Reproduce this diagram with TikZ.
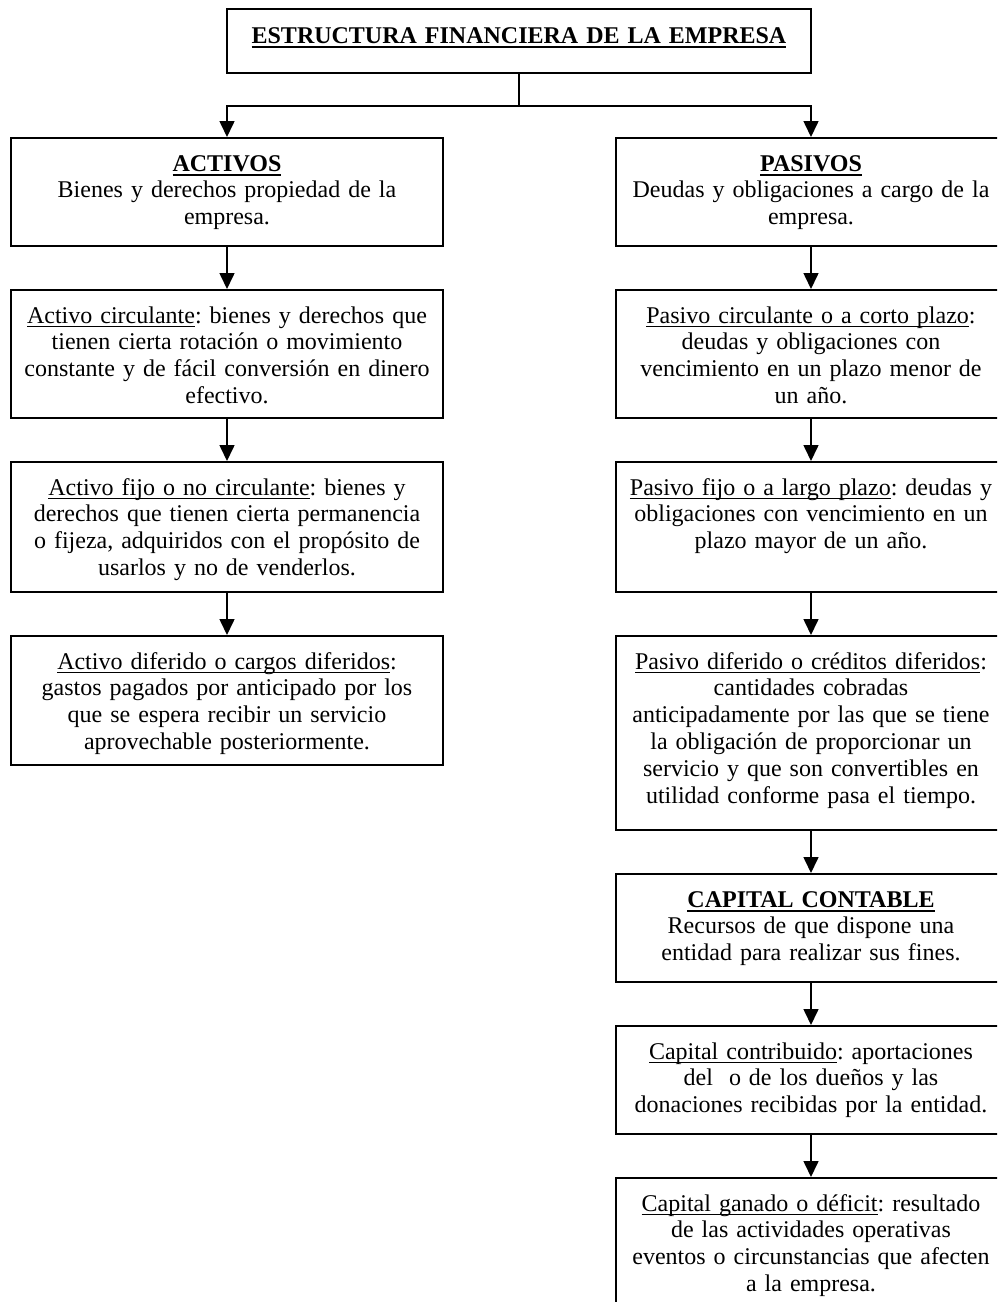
\documentclass[tikz,border=0pt]{standalone}
\usepackage{fontspec}
\setmainfont{Liberation Serif}
\usetikzlibrary{positioning,arrows.meta}

\newsavebox{\ulnbox}
\newcommand{\uln}[2][0.6pt]{\sbox{\ulnbox}{#2}\rlap{\vrule height -1.6pt depth \dimexpr 1.6pt+#1\relax width \wd\ulnbox}\usebox{\ulnbox}}
\newcommand{\hdr}[1]{\uln[1.1pt]{\textbf{#1}}}
\frenchspacing

\begin{document}
\begin{tikzpicture}[x=0.5pt,y=-0.5pt]
   \tikzstyle{box}=[draw, line width=1pt, align=center, inner xsep=4pt, inner ysep=0pt, text height=16.5pt, font=\fontsize{12pt}{13.4pt}\selectfont]
   \tikzstyle{leftbox}=[box, text width=208pt]
   \tikzstyle{rightbox}=[box, text width=187pt]
   \tikzstyle{link}=[line width=0.8pt, -{Triangle[width=7.5pt,length=8pt]}]

\clip (0,0) rectangle (997,1302);

\node[box, anchor=north, text width=284pt, text height=17pt, text depth=15pt] (estructura) at (519,8) {\hdr{ESTRUCTURA FINANCIERA DE LA EMPRESA}};
\coordinate (reparto) at (519,106);

\node[leftbox, anchor=north, text depth=37.5pt] (activos) at (227,137)
    {\hdr{ACTIVOS}\\ Bienes y derechos propiedad de la\\ empresa.};
\node[leftbox, below=21pt of activos, text depth=47.5pt] (actcirc)
    {\uln{Activo circulante}: bienes y derechos que\\ tienen cierta rotación o movimiento\\ constante y de fácil conversión en dinero\\ efectivo.};
\node[leftbox, below=21pt of actcirc, text depth=48.5pt] (actfijo)
    {\uln{Activo fijo o no circulante}: bienes y\\ derechos que tienen cierta permanencia\\ o fijeza, adquiridos con el propósito de\\ usarlos y no de venderlos.};
\node[leftbox, below=21pt of actfijo, text depth=48pt] (actdif)
    {\uln{Activo diferido o cargos diferidos}:\\ gastos pagados por anticipado por los\\ que se espera recibir un servicio\\ aprovechable posteriormente.};

\node[rightbox, anchor=north, text depth=37.5pt] (pasivos) at (811,137)
    {\hdr{PASIVOS}\\ Deudas y obligaciones a cargo de la\\ empresa.};
\node[rightbox, below=21pt of pasivos, text depth=47.5pt] (pascirc)
    {\uln{Pasivo circulante o a corto plazo}:\\ deudas y obligaciones con\\ vencimiento en un plazo menor de\\ un año.};
\node[rightbox, below=21pt of pascirc, text depth=48.5pt] (pasfijo)
    {\uln{Pasivo fijo o a largo plazo}: deudas y\\ obligaciones con vencimiento en un\\ plazo mayor de un año.};
\node[rightbox, below=21pt of pasfijo, text depth=80.5pt] (pasdif)
    {\uln{Pasivo diferido o créditos diferidos}:\\ cantidades cobradas\\ anticipadamente por las que se tiene\\ la obligación de proporcionar un\\ servicio y que son convertibles en\\ utilidad conforme pasa el tiempo.};
\node[rightbox, below=21pt of pasdif, text depth=37.5pt] (capital)
    {\hdr{CAPITAL CONTABLE}\\ Recursos de que dispone una\\ entidad para realizar sus fines.};
\node[rightbox, below=21pt of capital, text depth=37.5pt] (capcontrib)
    {\uln{Capital contribuido}: aportaciones\\ del~~o de los dueños y las\\ donaciones recibidas por la entidad.};
\node[rightbox, below=21pt of capcontrib, text depth=48pt] (capganado)
    {\uln{Capital ganado o déficit}: resultado\\ de las actividades operativas\\ eventos o circunstancias que afecten\\ a la empresa.};

\draw[line width=0.8pt] (estructura) -- (reparto);
\draw[link] (reparto) -| (activos);
\draw[link] (reparto) -| (pasivos);
\draw[link] (activos) -- (actcirc);
\draw[link] (actcirc) -- (actfijo);
\draw[link] (actfijo) -- (actdif);
\draw[link] (pasivos) -- (pascirc);
\draw[link] (pascirc) -- (pasfijo);
\draw[link] (pasfijo) -- (pasdif);
\draw[link] (pasdif) -- (capital);
\draw[link] (capital) -- (capcontrib);
\draw[link] (capcontrib) -- (capganado);

\end{tikzpicture}
\end{document}
